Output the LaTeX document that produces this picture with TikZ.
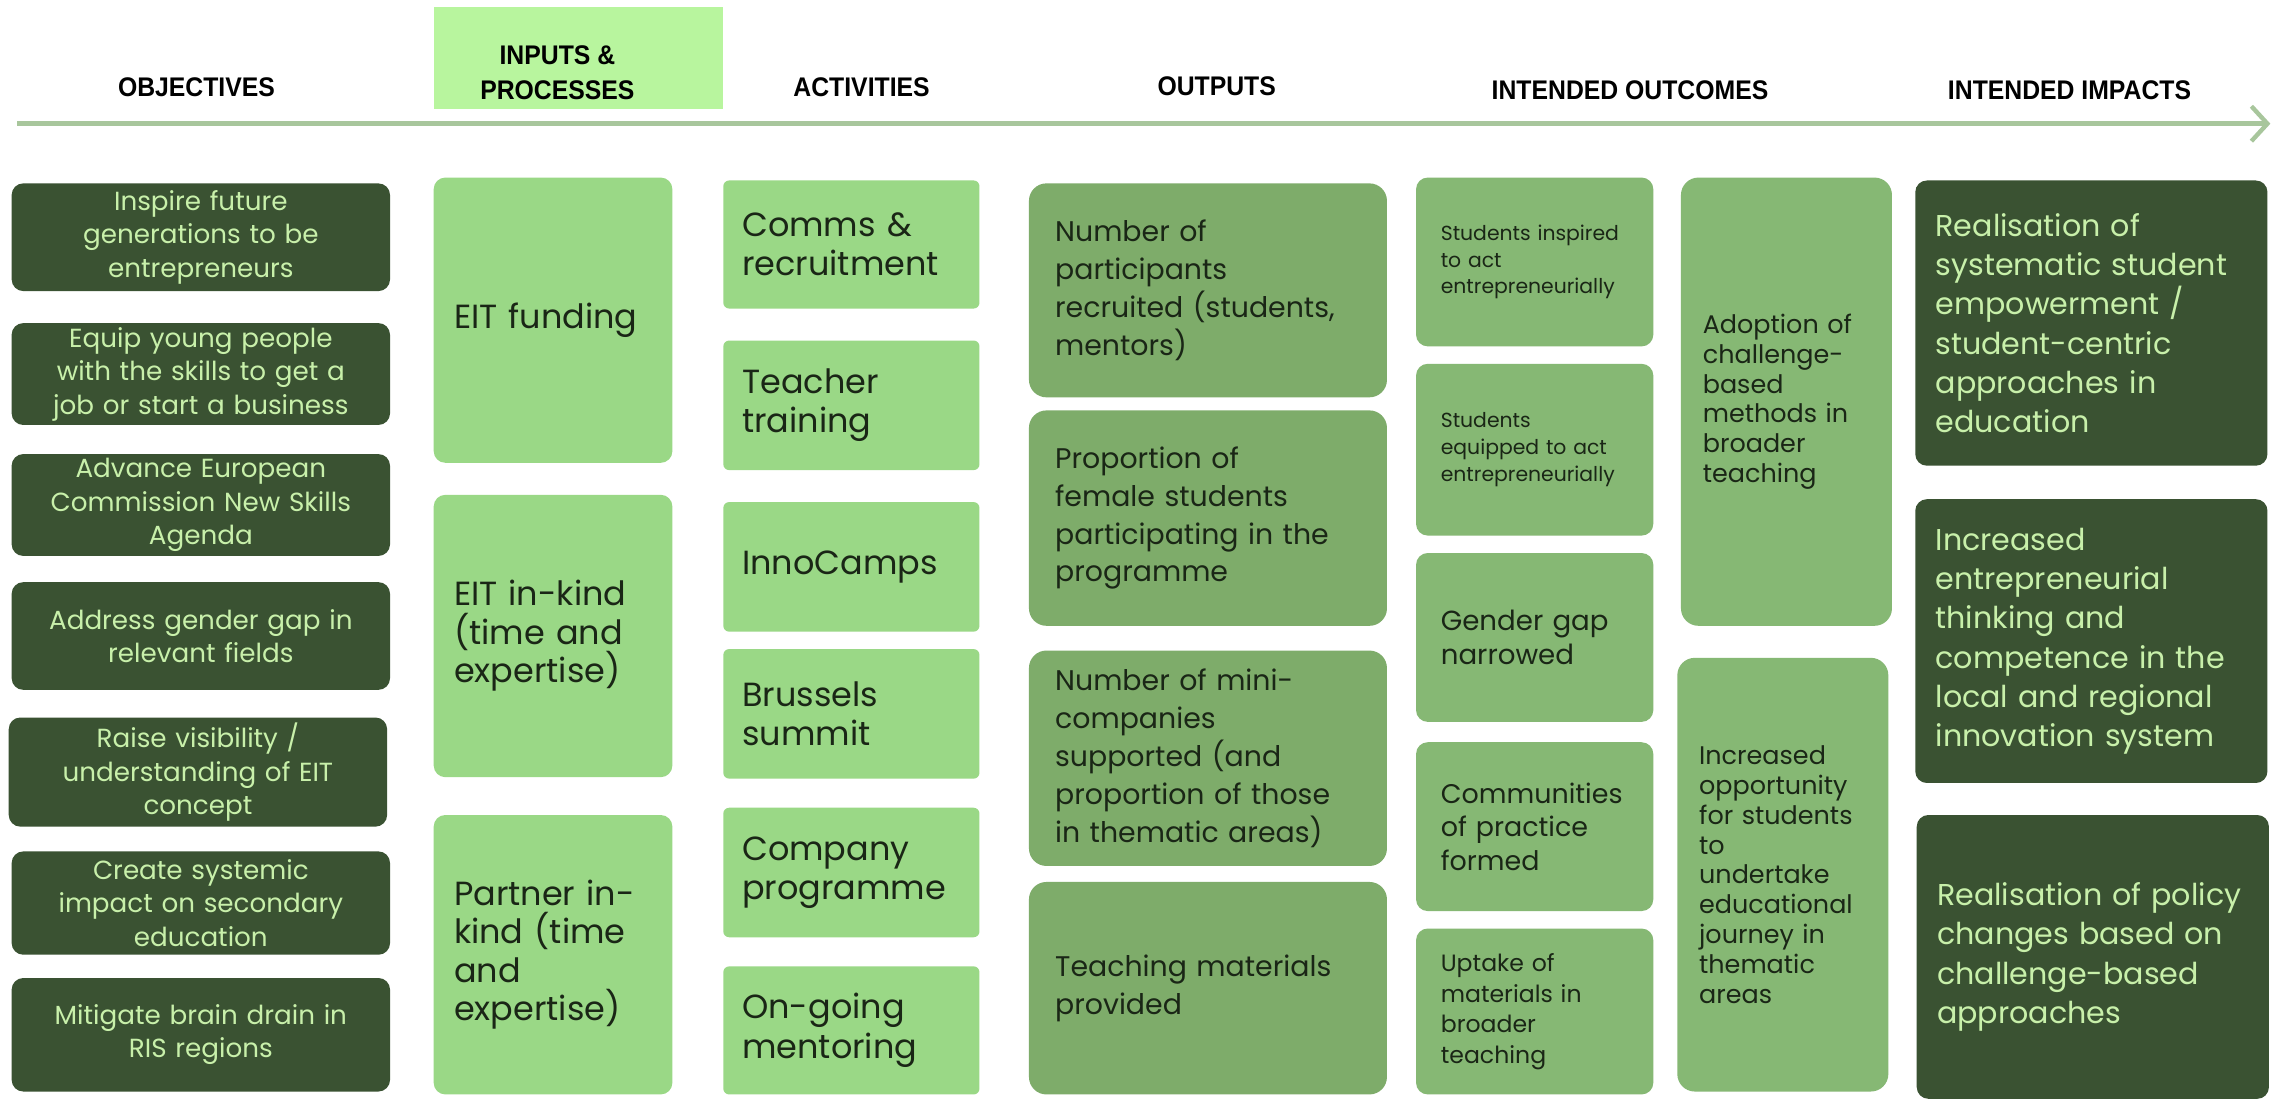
\documentclass[tikz,border=0pt]{standalone}
\usepackage{fontspec}
\setmainfont{Poppins}
\newfontfamily\hdrfont[FakeStretch=0.92]{Liberation Sans}
\usetikzlibrary{arrows.meta}

\definecolor{objdark}{HTML}{3A5232}
\definecolor{objtext}{HTML}{C8F0AA}
\definecolor{inlime}{HTML}{9AD886}
\definecolor{hdrlime}{HTML}{B8F59E}
\definecolor{outgreen}{HTML}{7EAC6A}
\definecolor{ocgreen}{HTML}{86B874}
\definecolor{darktext}{HTML}{1A2616}
\definecolor{tlgreen}{HTML}{A8C69C}

\begin{document}
\begin{tikzpicture}[x=1pt, y=-1pt,
  box/.style={rounded corners=8, inner ysep=0, anchor=center},
  hdr/.style={font=\hdrfont\bfseries\fontsize{18.5}{24}\selectfont, text=black, align=center, inner sep=0},
  hdrbox/.style={fill=hdrlime, minimum width=199, minimum height=70, inner sep=0},
  timeline/.style={draw=tlgreen, line width=3.5, -{Straight Barb[length=11, width=24, line width=3]}},
  objbox/.style={box, fill=objdark, text=objtext, minimum width=260, text width=250, inner xsep=5, align=center, font=\fontsize{18}{23}\selectfont},
  inbox/.style={box, fill=inlime, text=darktext, minimum width=164, text width=136, inner xsep=14, align=left, font=\fontsize{23}{26.5}\selectfont},
  actbox/.style={box, rounded corners=4, fill=inlime, text=darktext, minimum width=176, text width=150, inner xsep=13, align=left, font=\fontsize{23}{27}\selectfont},
  outbox/.style={box, rounded corners=12, fill=outgreen, text=darktext, minimum width=246, text width=210, inner xsep=18, align=left, font=\fontsize{19.5}{26}\selectfont},
  ocbox/.style={box, fill=ocgreen, text=darktext, minimum width=163, text width=129, inner xsep=17, align=left},
  ocwide/.style={box, rounded corners=12, fill=ocgreen, text=darktext, minimum width=145, text width=115, inner xsep=15, align=left, font=\fontsize{17.5}{20.5}\selectfont},
  impbox/.style={box, fill=objdark, text=objtext, minimum width=242, text width=214, inner xsep=14, align=left, font=\fontsize{20.7}{27}\selectfont}]

\useasboundingbox (0,0) rectangle (1568,755);
\fill[white] (0,0) rectangle (1568,755);

% column heads and time line
\node[hdrbox] (inhdr) at (397.5,40) {};
\node[hdr] (hobj) at (135,60) {OBJECTIVES};
\node[hdr] (hinp) at (383,50) {INPUTS \&\\PROCESSES};
\node[hdr] (hact) at (592,60) {ACTIVITIES};
\node[hdr] (hout) at (836,59) {OUTPUTS};
\node[hdr] (hoc) at (1120,62) {INTENDED OUTCOMES};
\node[hdr] (himp) at (1422,62) {INTENDED IMPACTS};
\coordinate (tl0) at (12,85);
\coordinate (tl1) at (1560,85);
\draw[timeline] (tl0) -- (tl1);

% objectives
\node[objbox, minimum height=74] (obj1) at (138,163) {Inspire future\\generations to be\\entrepreneurs};
\node[objbox, minimum height=70] (obj2) at (138,257) {Equip young people\\with the skills to get a\\job or start a business};
\node[objbox, minimum height=70] (obj3) at (138,347) {Advance European\\Commission New Skills\\Agenda};
\node[objbox, minimum height=74] (obj4) at (138,437) {Address gender gap in\\relevant fields};
\node[objbox, minimum height=75] (obj5) at (136,530.5) {Raise visibility /\\understanding of EIT\\concept};
\node[objbox, minimum height=71] (obj6) at (138,620.5) {Create systemic\\impact on secondary\\education};
\node[objbox, minimum height=78] (obj7) at (138,711) {Mitigate brain drain in\\RIS regions};

% inputs and processes
\node[inbox, minimum height=196] (inp1) at (380,220) {EIT funding};
\node[inbox, minimum height=194] (inp2) at (380,437) {EIT in-kind\\(time and\\expertise)};
\node[inbox, minimum height=192] (inp3) at (380,656) {Partner in-\\kind (time\\and\\expertise)};

% activities
\node[actbox, minimum height=88] (act1) at (585,168) {Comms \&\\recruitment};
\node[actbox, minimum height=89] (act2) at (585,278.5) {Teacher\\training};
\node[actbox, minimum height=89] (act3) at (585,389.5) {InnoCamps};
\node[actbox, minimum height=89] (act4) at (585,490.5) {Brussels\\summit};
\node[actbox, minimum height=89] (act5) at (585,599.5) {Company\\programme};
\node[actbox, minimum height=88] (act6) at (585,708) {On-going\\mentoring};

% outputs
\node[outbox, minimum height=147] (out1) at (830,199.5) {Number of\\participants\\recruited (students,\\mentors)};
\node[outbox, minimum height=148] (out2) at (830,356) {Proportion of\\female students\\participating in the\\programme};
\node[outbox, minimum height=148] (out3) at (830,521) {Number of mini-\\companies\\supported (and\\proportion of those\\in thematic areas)};
\node[outbox, minimum height=146] (out4) at (830,679) {Teaching materials\\provided};

% intended outcomes
\node[ocbox, minimum height=116, font=\fontsize{14}{18.5}\selectfont] (oc1) at (1054.5,180) {Students inspired\\to act\\entrepreneurially};
\node[ocbox, minimum height=118, font=\fontsize{14}{18.5}\selectfont] (oc2) at (1054.5,309) {Students\\equipped to act\\entrepreneurially};
\node[ocbox, minimum height=116, font=\fontsize{19}{23}\selectfont] (oc3) at (1054.5,438) {Gender gap\\narrowed};
\node[ocbox, minimum height=116, font=\fontsize{18.5}{23}\selectfont] (oc4) at (1054.5,568) {Communities\\of practice\\formed};
\node[ocbox, minimum height=114, font=\fontsize{16.2}{21}\selectfont] (oc5) at (1054.5,695) {Uptake of\\materials in\\broader\\teaching};
\node[ocwide, minimum height=308] (oc6) at (1227.5,276) {Adoption of\\challenge-\\based\\methods in\\broader\\teaching};
\node[ocwide, minimum height=298] (oc7) at (1225,601) {Increased\\opportunity\\for students\\to\\undertake\\educational\\journey in\\thematic\\areas};

% intended impacts
\node[impbox, minimum height=196] (imp1) at (1437,222) {Realisation of\\systematic student\\empowerment /\\student-centric\\approaches in\\education};
\node[impbox, minimum height=195] (imp2) at (1437,440.5) {Increased\\entrepreneurial\\thinking and\\competence in the\\local and regional\\innovation system};
\node[impbox, minimum height=195] (imp3) at (1438,657.5) {Realisation of policy\\changes based on\\challenge-based\\approaches};
\end{tikzpicture}
\end{document}
